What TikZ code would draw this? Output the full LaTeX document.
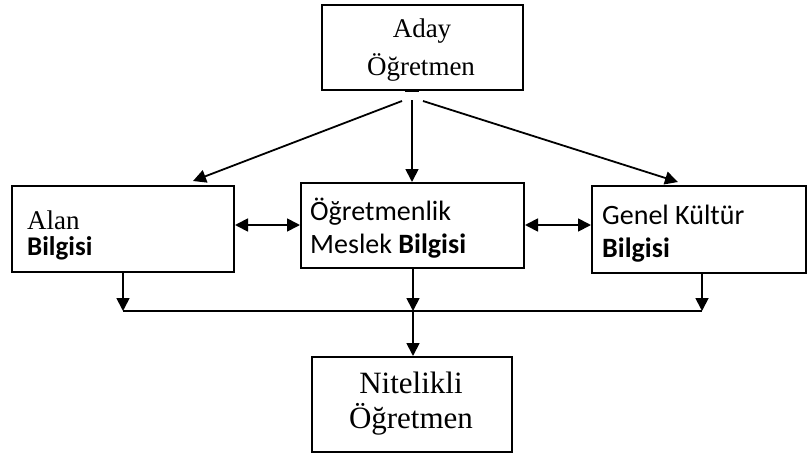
\documentclass[tikz,border=0pt]{standalone}
\usepackage{fontspec}
\usetikzlibrary{arrows.meta}
\newfontfamily\serifT{Liberation Serif}
\newfontfamily\sansC{Carlito}
\begin{document}
\begin{tikzpicture}[x=1pt,y=-1pt,
  box/.style={draw,line width=2pt,rectangle,inner sep=0pt},
  lbl/.style={anchor=base west,inner sep=0pt},
  clbl/.style={anchor=base,inner sep=0pt},
  conn/.style={line width=1.8pt},
  arr/.style={line width=1.8pt,-{Triangle[length=13pt,width=13pt]}},
  darr/.style={line width=1.8pt,{Triangle[length=13pt,width=13pt]}-{Triangle[length=13pt,width=13pt]}}]
\useasboundingbox (0,0) rectangle (807,455);
% boxes
\node[box,minimum width=201pt,minimum height=85pt] (top) at (422.5,47.5) {};
\node[box,minimum width=222pt,minimum height=86pt] (alan) at (123,229) {};
\node[box,minimum width=223pt,minimum height=85pt] (mid) at (412.5,225.5) {};
\node[box,minimum width=214pt,minimum height=87pt] (gen) at (699,229.5) {};
\node[box,minimum width=200pt,minimum height=95pt] (bot) at (412,404.5) {};
% texts
\node[clbl,font=\serifT\fontsize{27}{27}\selectfont] (t1) at (422,37) {Aday};
\node[clbl,font=\serifT\fontsize{27}{27}\selectfont] (t2) at (421,75) {Öğretmen};
\node[lbl,font=\serifT\fontsize{27}{27}\selectfont] (a1) at (27,229) {Alan};
\node[lbl,font=\sansC\bfseries\fontsize{27}{27}\selectfont] (a2) at (27,255) {Bilgisi};
\node[lbl,font=\sansC\fontsize{28}{28}\selectfont] (m1) at (310,220) {Öğretmenlik};
\node[lbl,font=\sansC\fontsize{28}{28}\selectfont] (m2) at (310,253) {Meslek \textbf{Bilgisi}};
\node[lbl,font=\sansC\fontsize{28}{28}\selectfont] (g1) at (602,224) {Genel Kültür};
\node[lbl,font=\sansC\bfseries\fontsize{28}{28}\selectfont] (g2) at (602,257) {Bilgisi};
\node[clbl,font=\serifT\fontsize{31}{31}\selectfont] (b1) at (411,393) {Nitelikli};
\node[clbl,font=\serifT\fontsize{31}{31}\selectfont] (b2) at (411,428) {Öğretmen};
% connectors from top
\coordinate (s0) at (412,100);
\coordinate (sl) at (402,101);
\coordinate (sr) at (423,101);
\draw[line width=2.5pt] (405,91) -- (419,91);
\draw[arr] (sl) -- (193,181);
\draw[arr] (s0) -- (mid.north -| s0);
\draw[arr] (sr) -- (678,182);
% double arrows
\draw[darr] (alan.east |- 0,225) -- (mid.west |- 0,225);
\draw[darr] (mid.east |- 0,225) -- (gen.west |- 0,225);
% bottom collection
\coordinate (jl) at (123,311);
\coordinate (jm) at (413,311);
\coordinate (jr) at (702,311);
\draw[arr] (alan.south -| jl) -- (jl);
\draw[arr] (mid.south -| jm) -- (jm);
\draw[arr] (gen.south -| jr) -- (jr);
\draw[conn] (jl) -- (jr);
\draw[arr] (jm) -- (bot.north -| jm);
\end{tikzpicture}
\end{document}
